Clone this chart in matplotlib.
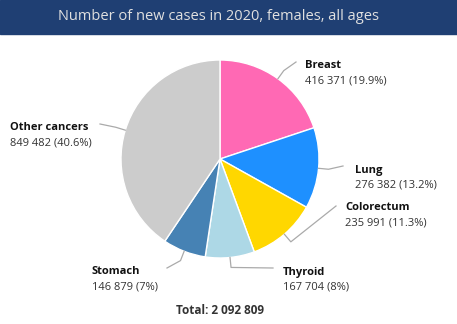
import numpy as np
import matplotlib.pyplot as plt
from matplotlib.patches import Rectangle

# Data
cancers = ['Breast', 'Lung', 'Colorectum', 'Thyroid', 'Stomach', 'Other cancers']
cases = [416371, 276382, 235991, 167704, 146879, 849482]
shares = ['19.9%', '13.2%', '11.3%', '8%', '7%', '40.6%']
total = 2092809
colors = ['#FF69B4', '#1E90FF', '#FFD700', '#ADD8E6', '#4682B4', '#CCCCCC']

# label anchor (pixel coords, y from top) and connector end points
label_pos = [(305, 66), (355, 170), (345, 208), (283, 272), (92, 272), (10, 128)]
conn_end = [(296, 62), (343, 166), (336, 206), (273, 268), (167, 268), (100, 124)]

W, H = 457, 324
CX, CY, R = 220, 159, 99

plt.rcParams['font.family'] = ['Open Sans', 'DejaVu Sans']


def fmt(n):
    return f"{n:,}".replace(',', ' ')


fig = plt.figure(figsize=(W / 100, H / 100), dpi=100)
ax = fig.add_axes([0, 0, 1, 1])
ax.set_xlim(0, W)
ax.set_ylim(0, H)
ax.set_aspect('equal')
ax.axis('off')

# title banner
ax.add_patch(Rectangle((0, H - 34), W, 34, color='#1F3F73', zorder=0))
ax.text(218, H - 17, 'Number of new cases in 2020, females, all ages',
        ha='center', va='center', fontsize=10.5, color='#E0E0E0')

wedges, _ = ax.pie(cases, colors=colors, startangle=90, counterclock=False,
                   center=(CX, H - CY), radius=R,
                   wedgeprops=dict(edgecolor='white', linewidth=1))
ax.set_xlim(0, W)
ax.set_ylim(0, H)

for i, w in enumerate(wedges):
    ang = np.deg2rad((w.theta1 + w.theta2) / 2)
    dx, dy = np.cos(ang), np.sin(ang)
    x0, y0 = CX + R * dx, (H - CY) + R * dy
    x1, y1 = CX + (R + 10) * dx, (H - CY) + (R + 10) * dy
    ex, ey = conn_end[i]
    ax.plot([x0, x1, ex], [y0, y1, H - ey], color='#AAAAAA', lw=0.9,
            solid_joinstyle='round')
    lx, ly = label_pos[i]
    ax.text(lx, H - ly, cancers[i], fontsize=8, fontweight='bold',
            color='#111111', ha='left', va='center')
    ax.text(lx, H - ly - 15, f"{fmt(cases[i])} ({shares[i]})", fontsize=8,
            color='#333333', ha='left', va='center')

ax.text(220, H - 310, f"Total: {fmt(total)}", fontsize=8.5, fontweight='bold',
        color='#333333', ha='center', va='center')

fig.savefig('out.png', dpi=100, facecolor='white')
